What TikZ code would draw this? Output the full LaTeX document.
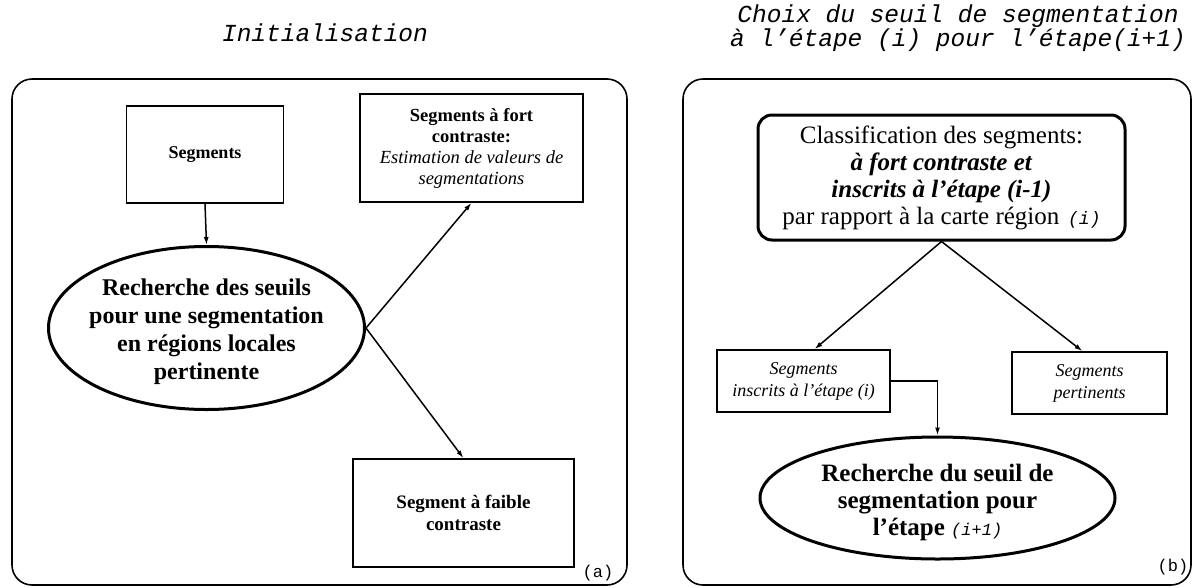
\documentclass[tikz,border=0pt]{standalone}
\usepackage{fontspec}
\setmainfont{Liberation Serif}
\newfontfamily\courier{Liberation Mono}
\usetikzlibrary{shapes.geometric,arrows.meta}

\newcommand{\taille}[2]{\fontsize{#1}{#2}\selectfont}

\begin{document}
\begin{tikzpicture}[x=1pt,y=-1pt,
  titre/.style={font=\courier\itshape\taille{24.5}{24},align=center},
  cadre/.style={draw,line width=1.6pt,rounded corners=20pt},
  boite/.style={draw,line width=1.6pt,align=center,inner sep=0pt},
  ovale/.style={draw,ellipse,line width=3pt,inner sep=0pt},
  fleche/.style={-{Latex[length=8pt,width=5pt]},line width=1.5pt},
  repere/.style={font=\courier\taille{17}{17}}]
\useasboundingbox (0,0) rectangle (1193,587);

% (a) initialisation
\node[titre] (titreA) at (325,33) {Initialisation};
\draw[cadre] (12,79) rectangle (627,585);
\node[boite,minimum width=157pt,minimum height=97pt,font=\bfseries\taille{18}{21}] (seg) at (205,154.5) {Segments};
\node[boite,minimum width=223pt,minimum height=108pt,font=\taille{18.5}{21}] (fort) at (471.5,148)
  {\textbf{Segments à fort}\\\textbf{contraste:}\\\textit{Estimation de valeurs de}\\\textit{segmentations}};
\node[ovale,minimum width=316pt,minimum height=163pt,
  label={[font=\bfseries\taille{24}{28},align=center,yshift=-4pt]center:{Recherche des seuils\\pour une segmentation\\en régions locales\\pertinente}}] (rech) at (206.5,328) {};
\node[boite,minimum width=221pt,minimum height=108pt,font=\bfseries\taille{19}{22}] (faible) at (463.5,513) {Segment à faible\\contraste};
\node[repere] (a) at (598,573) {(a)};
\draw[fleche] (seg.south) -- (rech.north);
\draw[fleche] (rech.east) -- (fort.south);
\draw[fleche] (rech.east) -- (faible.north);

% (b) choix du seuil
\node[titre] (titreB) at (958,28) {Choix du seuil de segmentation\\à l’étape (i) pour l’étape(i+1)};
\draw[cadre] (683,79) rectangle (1191,585);
\node[boite,rounded corners=14pt,line width=3pt,minimum width=367pt,minimum height=125pt,font=\taille{25}{27}] (classif) at (941.5,177.5)
  {Classification des segments:\\\textbf{\textit{à fort contraste et}}\\\textbf{\textit{inscrits à l’étape (i-1)}}\\par rapport à la carte région\hspace{0.35em}{\courier\itshape\taille{18}{27}(i)}};
\node[boite,minimum width=173pt,minimum height=62pt,font=\itshape\taille{18}{22}] (inscrits) at (803.5,381) {Segments\\inscrits à l’étape (i)};
\node[boite,minimum width=155pt,minimum height=62pt,font=\itshape\taille{18}{22}] (pertin) at (1089.5,383) {Segments\\pertinents};
\node[ovale,minimum width=355pt,minimum height=122pt,
  label={[font=\bfseries\taille{25}{27},align=center,yshift=-4pt]center:{Recherche du seuil de\\segmentation pour\\l’étape {\courier\mdseries\itshape\taille{17}{27}(i+1)}}}] (rech2) at (937.5,498) {};
\node[repere] (b) at (1173,567) {(b)};
\draw[fleche] (classif.south) -- ([xshift=11pt]inscrits.north);
\draw[fleche] (classif.south) -- ([xshift=-7pt]pertin.north);
\draw[fleche] (inscrits.east) -| (rech2.north);
\end{tikzpicture}
\end{document}
